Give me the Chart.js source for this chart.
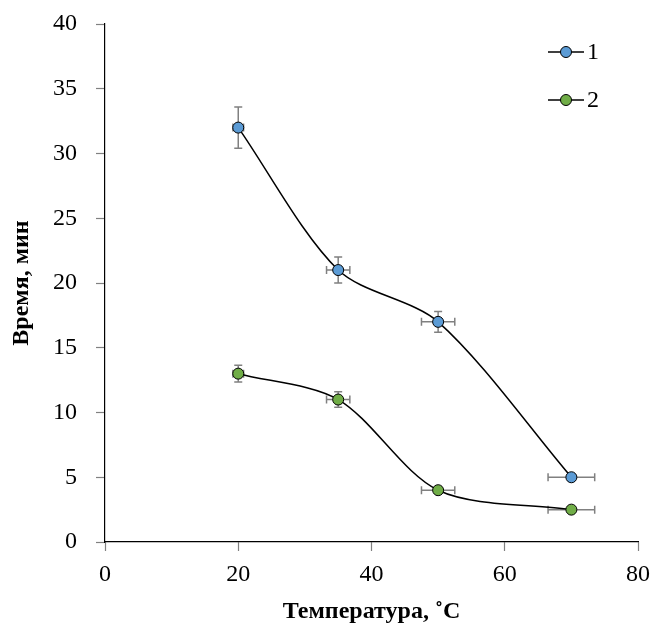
<!DOCTYPE html>
<html>
<head>
<meta charset="utf-8">
<script src="https://cdn.jsdelivr.net/npm/chart.js@4/dist/chart.umd.min.js"></script>
<style>
  body { margin: 0; background: #fff; }
  canvas { display: block; }
</style>
</head>
<body>
<canvas id="grafico" width="652" height="630"></canvas>
<script>
// datos
const temperatura = [20, 35, 50, 70];
const serie1 = [32, 21, 17, 5];
const serie2 = [13, 11, 4, 2.5];
// errores (x en grados, y en minutos)
const errX1 = [0.8, 1.75, 2.5, 3.5];
const errY1 = [1.6, 1.0, 0.8, 0];
const errX2 = [0.8, 1.75, 2.5, 3.5];
const errY2 = [0.65, 0.6, 0, 0];
const nombres = ['1', '2'];
const ticksY = [0, 5, 10, 15, 20, 25, 30, 35, 40];
const ticksX = [0, 20, 40, 60, 80];

const fuente = 'Liberation Serif, Times New Roman, serif';

function puntos(ys) {
    return temperatura.map((t, i) => ({ x: t, y: ys[i] }));
}

// barras de error dibujadas con las escalas del grafico
const barrasError = {
    id: 'barrasError',
    beforeDatasetsDraw(chart) {
        const ctx = chart.ctx;
        const sx = chart.scales.x;
        const sy = chart.scales.y;
        const errores = [[errX1, errY1], [errX2, errY2]];
        ctx.save();
        ctx.strokeStyle = '#808080';
        ctx.lineWidth = 1.5;
        const cap = 4;
        chart.data.datasets.forEach((ds, d) => {
            ds.data.forEach((p, i) => {
                const px = sx.getPixelForValue(p.x);
                const py = sy.getPixelForValue(p.y);
                const ex = errores[d][0][i];
                const ey = errores[d][1][i];
                ctx.beginPath();
                if (ex > 0) {
                    const x1 = sx.getPixelForValue(p.x - ex);
                    const x2 = sx.getPixelForValue(p.x + ex);
                    ctx.moveTo(x1, py); ctx.lineTo(x2, py);
                    ctx.moveTo(x1, py - cap); ctx.lineTo(x1, py + cap);
                    ctx.moveTo(x2, py - cap); ctx.lineTo(x2, py + cap);
                }
                if (ey > 0) {
                    const y1 = sy.getPixelForValue(p.y - ey);
                    const y2 = sy.getPixelForValue(p.y + ey);
                    ctx.moveTo(px, y1); ctx.lineTo(px, y2);
                    ctx.moveTo(px - cap, y1); ctx.lineTo(px + cap, y1);
                    ctx.moveTo(px - cap, y2); ctx.lineTo(px + cap, y2);
                }
                ctx.stroke();
            });
        });
        ctx.restore();
    }
};

// leyenda vertical arriba a la derecha
const leyenda = {
    id: 'leyenda',
    afterDraw(chart) {
        const ctx = chart.ctx;
        const area = chart.chartArea;
        ctx.save();
        chart.data.datasets.forEach((ds, i) => {
            const y = area.top + 28 + i * 48;
            const x0 = area.right - 90;
            ctx.strokeStyle = '#000';
            ctx.lineWidth = 1.5;
            ctx.beginPath();
            ctx.moveTo(x0, y); ctx.lineTo(x0 + 36, y);
            ctx.stroke();
            ctx.beginPath();
            ctx.arc(x0 + 18, y, 5.5, 0, Math.PI * 2);
            ctx.fillStyle = ds.pointBackgroundColor;
            ctx.fill();
            ctx.lineWidth = 1;
            ctx.stroke();
            ctx.fillStyle = '#000';
            ctx.font = '24px ' + fuente;
            ctx.textBaseline = 'middle';
            ctx.textAlign = 'left';
            ctx.fillText(ds.label, x0 + 39, y + 1);
        });
        ctx.restore();
    }
};

new Chart(document.getElementById('grafico'), {
    type: 'scatter',
    data: {
        datasets: [
            {
                label: nombres[0],
                data: puntos(serie1),
                showLine: true,
                borderColor: '#000',
                borderWidth: 1.5,
                tension: 0.3,
                pointRadius: 5.5,
                pointBackgroundColor: '#5B9BD5',
                pointBorderColor: '#000',
                pointBorderWidth: 1
            },
            {
                label: nombres[1],
                data: puntos(serie2),
                showLine: true,
                borderColor: '#000',
                borderWidth: 1.5,
                tension: 0.3,
                pointRadius: 5.5,
                pointBackgroundColor: '#70AD47',
                pointBorderColor: '#000',
                pointBorderWidth: 1
            }
        ]
    },
    options: {
        responsive: false,
        animation: false,
        layout: { padding: { left: 0, right: 14, top: 24, bottom: 0 } },
        plugins: {
            legend: { display: false },
            tooltip: { enabled: false }
        },
        scales: {
            x: {
                type: 'linear',
                min: 0,
                max: 80,
                afterBuildTicks: s => { s.ticks = ticksX.map(v => ({ value: v })); },
                afterFit: s => { s.height = 88; s.paddingLeft = 0; s.paddingRight = 0; },
                border: { display: true, color: '#000', width: 1.2 },
                grid: { display: true, drawOnChartArea: false, drawTicks: true, tickLength: 9, color: '#808080', tickWidth: 1.2 },
                ticks: { color: '#000', font: { family: fuente, size: 24 }, padding: 9, maxRotation: 0 },
                title: {
                    display: true,
                    text: 'Температура, ˚C',
                    color: '#000',
                    font: { family: fuente, size: 24, weight: 'bold' },
                    padding: 4
                }
            },
            y: {
                type: 'linear',
                min: 0,
                max: 40,
                afterBuildTicks: s => { s.ticks = ticksY.map(v => ({ value: v })); },
                afterFit: s => { s.width = 105; s.paddingTop = 0; s.paddingBottom = 0; },
                border: { display: true, color: '#000', width: 1.2 },
                grid: { display: true, drawOnChartArea: false, drawTicks: true, tickLength: 9, color: '#808080', tickWidth: 1.2 },
                ticks: { color: '#000', font: { family: fuente, size: 24 }, padding: 19 },
                title: {
                    display: true,
                    text: 'Время, мин',
                    color: '#000',
                    font: { family: fuente, size: 24, weight: 'bold' },
                    padding: 7
                }
            }
        }
    },
    plugins: [barrasError, leyenda]
});
</script>
</body>
</html>
